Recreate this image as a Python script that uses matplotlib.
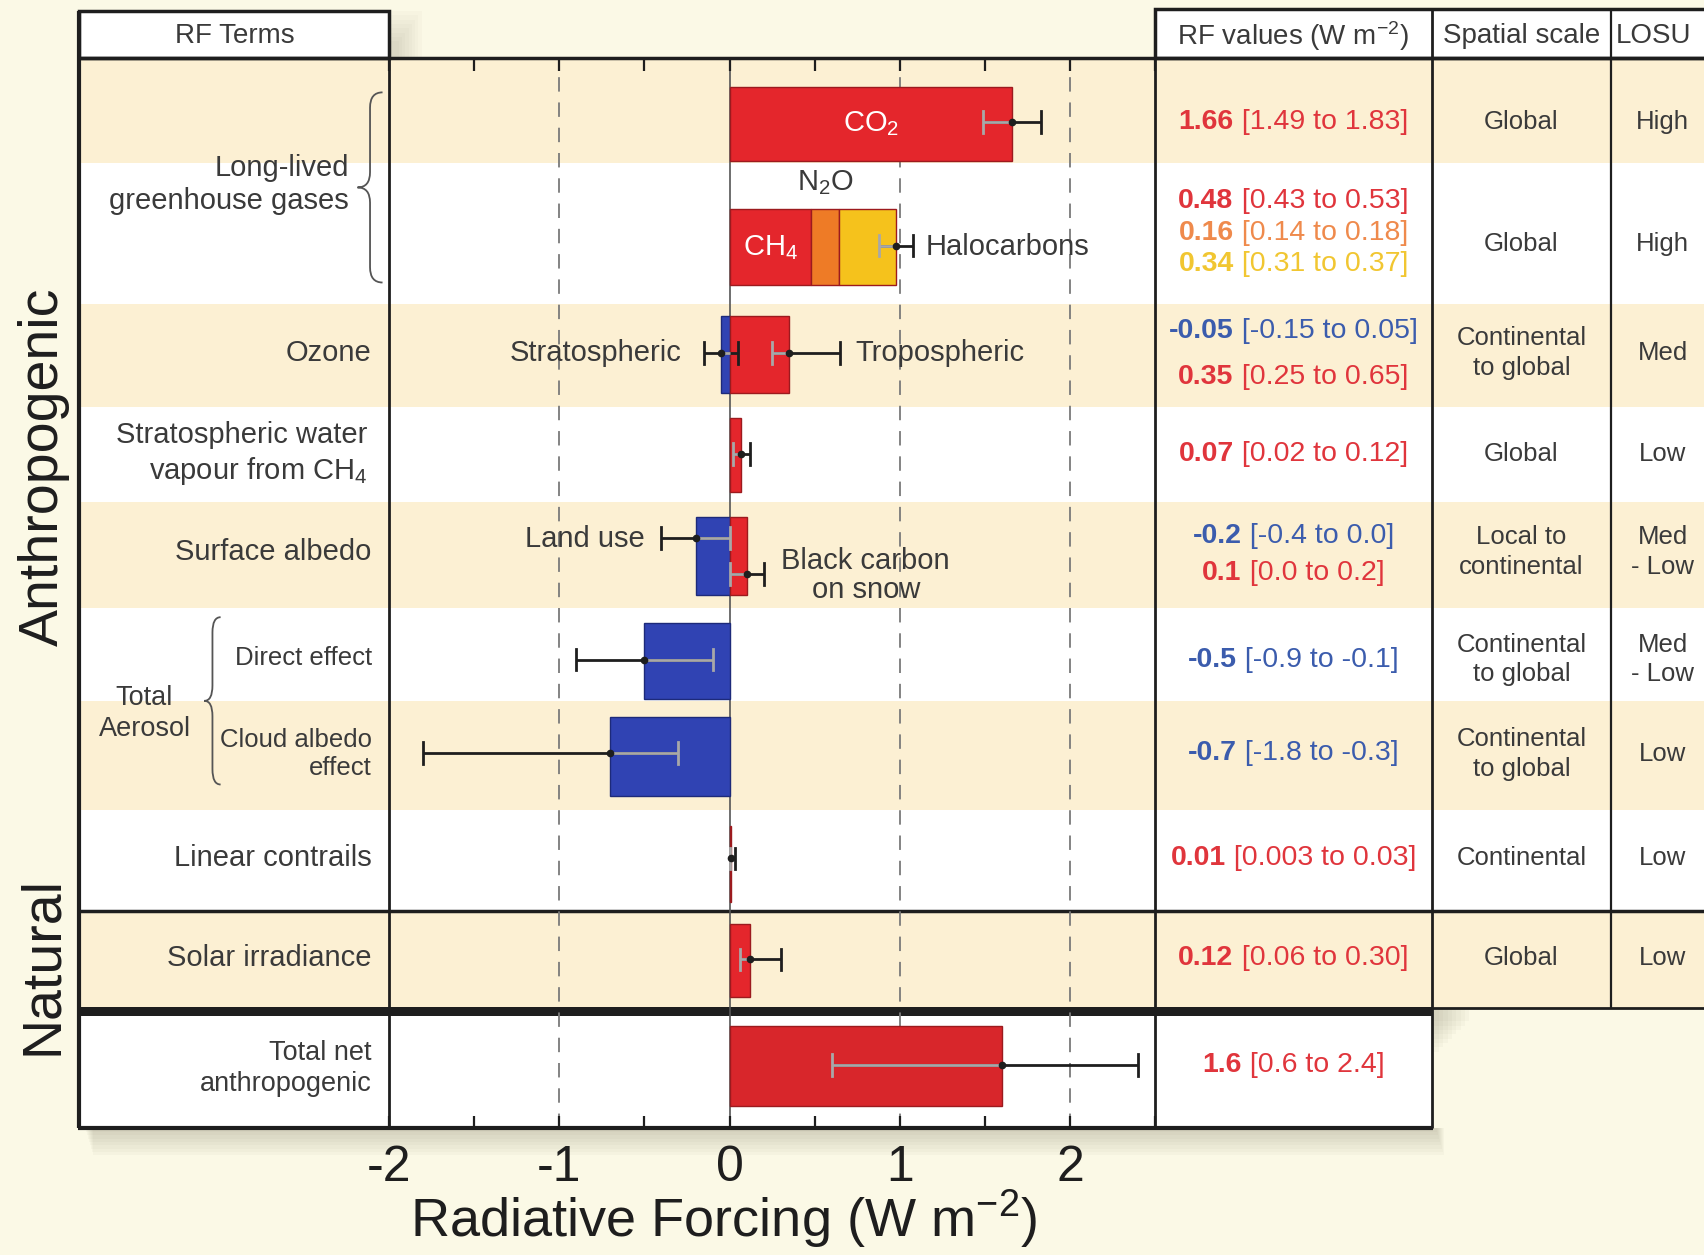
"""IPCC AR4-style radiative forcing summary: bars + RF table."""

import matplotlib

matplotlib.use("Agg")
import matplotlib.pyplot as plt
from matplotlib.patches import Rectangle, PathPatch
from matplotlib.path import Path
from matplotlib.ticker import MultipleLocator

plt.rcParams["font.family"] = ["Liberation Sans", "DejaVu Sans"]
plt.rcParams["mathtext.fontset"] = "custom"
plt.rcParams["mathtext.rm"] = "Liberation Sans"
plt.rcParams["mathtext.it"] = "Liberation Sans:italic"
plt.rcParams["mathtext.bf"] = "Liberation Sans:bold"
plt.rcParams["axes.unicode_minus"] = False

# --- data -------------------------------------------------------------------
ghg_labels = ["CH$_4$", "N$_2$O", "Halocarbons"]
ghg_values = [0.48, 0.16, 0.34]
ghg_lows = [0.43, 0.14, 0.31]
ghg_highs = [0.53, 0.18, 0.37]

terms = ["CO2", "Stratospheric", "Tropospheric", "Strat H2O", "Land use",
         "Black carbon", "Direct", "Cloud albedo", "Contrails", "Solar",
         "Total net"]
values = [1.66, -0.05, 0.35, 0.07, -0.2, 0.1, -0.5, -0.7, 0.01, 0.12, 1.6]
lows = [1.49, -0.15, 0.25, 0.02, -0.4, 0.0, -0.9, -1.8, 0.003, 0.06, 0.6]
highs = [1.83, 0.05, 0.65, 0.12, 0.0, 0.2, -0.1, -0.3, 0.03, 0.30, 2.4]

row_labels = ["Long-lived\ngreenhouse gases", "Ozone",
              "Stratospheric water\nvapour from CH$_4$", "Surface albedo",
              "Direct effect", "Cloud albedo\neffect", "Linear contrails",
              "Solar irradiance", "Total net\nanthropogenic"]

rf_table = [
    [("1.66", "[1.49 to 1.83]")],
    [("0.48", "[0.43 to 0.53]"), ("0.16", "[0.14 to 0.18]"), ("0.34", "[0.31 to 0.37]")],
    [("-0.05", "[-0.15 to 0.05]"), ("0.35", "[0.25 to 0.65]")],
    [("0.07", "[0.02 to 0.12]")],
    [("-0.2", "[-0.4 to 0.0]"), ("0.1", "[0.0 to 0.2]")],
    [("-0.5", "[-0.9 to -0.1]")],
    [("-0.7", "[-1.8 to -0.3]")],
    [("0.01", "[0.003 to 0.03]")],
    [("0.12", "[0.06 to 0.30]")],
    [("1.6", "[0.6 to 2.4]")],
]
spatial_scale = ["Global", "Global", "Continental\nto global", "Global",
                 "Local to\ncontinental", "Continental\nto global",
                 "Continental\nto global", "Continental", "Global"]
losu = ["High", "High", "Med", "Low", "Med\n- Low", "Med\n- Low", "Low", "Low", "Low"]

# --- style / layout (reference pixel grid) -------------------------------------
W, H = 1568, 1155
BG = "#fbf9e6"
BEIGE = "#fcf0d3"
RED, BLUE = "#e4262c", "#3043b3"
TOTAL_RED = "#d8262b"
GHG_COLORS = [RED, "#ee7b26", "#f5c21c"]
TXT_COLORS = {"red": "#e0353c", "blue": "#3b5cad", "orange": "#ef8a4c", "yellow": "#f1c631"}
rf_colors = [["red"], ["red", "orange", "yellow"], ["blue", "red"], ["red"],
             ["blue", "red"], ["blue"], ["blue"], ["red"], ["red"], ["red"]]
INK = "#3a3a3a"
DARK = "#1e1e1e"
ERR_IN = "#a8a8a8"

row_edges = [53, 150, 280, 375, 462, 560, 645, 745, 838, 928]
shaded = [True, False, True, False, True, False, True, False, True]
table_y = [112, 225, 325, 418, 508, 607, 694, 790, 882, 980]
rf_line_y = [[112], [185, 214, 243], [305, 347], [418], [493, 527], [607],
             [693], [790], [882], [980]]
label_y = [170, 325, 418, 508, 606, 694, 790, 882, 983]
label_x = [321, 342, 338, 342, 342, 342, 342, 342, 342]
label_size = [21, 21, 21, 21, 18.5, 18.5, 21, 21, 19.5]

# bar centre, bar height, error-bar y
bar_layout = {
    "CO2": (114, 68, 112), "Stratospheric": (326, 71, 325),
    "Tropospheric": (326, 71, 325), "Strat H2O": (419, 68, 418),
    "Land use": (512, 72, 495), "Black carbon": (512, 72, 528),
    "Direct": (608, 70, 607), "Cloud albedo": (696, 73, 693),
    "Contrails": (795, 70, 790), "Solar": (884, 68, 883),
    "Total net": (981, 73, 980),
}
ghg_layout = (227, 70, 226)

X_LEFT, X_PLOT_L, X_PLOT_R, X_SCALE, X_LOSU, X_RIGHT = 73, 358, 1063, 1318, 1482, 1600
Y_HEAD, Y_TOP, Y_NAT, Y_SOL, Y_TOT0, Y_TOT1 = 10, 53, 838, 928, 935, 1038

fig = plt.figure(figsize=(17.04, 12.55), dpi=100, facecolor=BG)
bg = fig.add_axes([0, 0, 1, 1])
bg.set_xlim(0, W)
bg.set_ylim(H, 0)
bg.axis("off")


def hline(y, x0, x1, lw=2.2):
    bg.plot([x0, x1], [y, y], color=DARK, lw=lw, solid_capstyle="butt", zorder=5)


def vline(x, y0, y1, lw=2.0):
    bg.plot([x, x], [y0, y1], color=DARK, lw=lw, solid_capstyle="butt", zorder=5)


def brace(x_tip, x_end, y0, y1, r=14):
    xm = (x_tip + x_end) / 2
    ym = (y0 + y1) / 2
    verts = [(x_end, y0), (xm, y0), (xm, y0 + r), (xm, ym - r), (xm, ym), (x_tip, ym),
             (xm, ym), (xm, ym + r), (xm, y1 - r), (xm, y1), (x_end, y1)]
    codes = [Path.MOVETO, Path.CURVE3, Path.CURVE3, Path.LINETO, Path.CURVE3, Path.CURVE3,
             Path.CURVE3, Path.CURVE3, Path.LINETO, Path.CURVE3, Path.CURVE3]
    bg.add_patch(PathPatch(Path(verts, codes), fill=False, color="#555", lw=1.3, zorder=6))


# soft drop shadow under the boxes
for k in range(8):
    a = 0.035
    bg.add_patch(Rectangle((X_LEFT + 6 + k, Y_TOT1), X_SCALE - X_LEFT - 2, 4 + 3 * k,
                           color="#6b6650", alpha=a, lw=0, zorder=1))
    bg.add_patch(Rectangle((X_SCALE, Y_SOL), 6 + 4 * k, 40 - 4 * k,
                           color="#6b6650", alpha=a, lw=0, zorder=1))
    bg.add_patch(Rectangle((X_PLOT_L, Y_HEAD + 4 * k), 30 - 3 * k, Y_TOP - Y_HEAD - 4 * k,
                           color="#6b6650", alpha=a * 0.8, lw=0, zorder=1))

# row bands
for (y0, y1, sh) in zip(row_edges[:-1], row_edges[1:], shaded):
    bg.add_patch(Rectangle((X_LEFT, y0), X_RIGHT - X_LEFT, y1 - y0,
                           color=BEIGE if sh else "white", lw=0, zorder=2))
bg.add_patch(Rectangle((X_LEFT, Y_TOT0), X_SCALE - X_LEFT, Y_TOT1 - Y_TOT0,
                       color="white", lw=0, zorder=2))
# header boxes
bg.add_patch(Rectangle((X_LEFT, Y_HEAD), X_PLOT_L - X_LEFT, Y_TOP - Y_HEAD,
                       facecolor="white", edgecolor=DARK, lw=2.5, zorder=4))
bg.add_patch(Rectangle((X_PLOT_R, Y_HEAD - 2), X_RIGHT - X_PLOT_R, Y_TOP - Y_HEAD + 2,
                       facecolor="white", edgecolor=DARK, lw=2.5, zorder=4))

# frame lines
vline(X_LEFT, Y_HEAD, Y_TOT1, lw=3)
vline(X_PLOT_L, Y_HEAD, Y_TOT1)
vline(X_PLOT_R, Y_HEAD - 2, Y_TOT1)
vline(X_SCALE, Y_HEAD - 2, Y_TOT1)
vline(X_LOSU, Y_HEAD - 2, Y_SOL, lw=1.6)
hline(Y_TOP, X_LEFT, X_RIGHT, lw=2.5)
hline(Y_NAT, X_LEFT, X_RIGHT, lw=2.5)
hline(Y_SOL, X_SCALE, X_RIGHT, lw=2)
bg.add_patch(Rectangle((X_LEFT, Y_SOL - 1), X_SCALE - X_LEFT, Y_TOT0 - Y_SOL + 1,
                       color=DARK, lw=0, zorder=5))
hline(Y_TOT1, X_LEFT - 1.5, X_SCALE + 1, lw=3)

# headers
bg.text(216, 33, "RF Terms", ha="center", va="center", fontsize=20, color=INK, zorder=7)
bg.text(1190, 33, "RF values (W m$^{-2}$)", ha="center", va="center", fontsize=20,
        color=INK, zorder=7)
bg.text(1400, 33, "Spatial scale", ha="center", va="center", fontsize=20, color=INK, zorder=7)
bg.text(1487, 33, "LOSU", ha="left", va="center", fontsize=20, color=INK, zorder=7)

# group labels
bg.text(40, 430, "Anthropogenic", rotation=90, ha="center", va="center",
        fontsize=40, color=DARK, zorder=7)
bg.text(40, 889, "Natural", rotation=90, ha="center", va="center",
        fontsize=40, color=DARK, zorder=7)

# row labels
for lab, x, y, fs in zip(row_labels, label_x, label_y, label_size):
    bg.text(x, y, lab, ha="right", va="center", fontsize=fs, color=INK,
            linespacing=1.25, zorder=7)
bg.text(133, 657, "Total\nAerosol", ha="center", va="center", fontsize=19.5,
        color=INK, linespacing=1.25, zorder=7)
brace(329, 352, 85, 260)
brace(188, 203, 568, 722)

# RF value column: bold value + plain range, centred as one string
renderer = fig.canvas.get_renderer()
px_to_x = W / bg.bbox.width
for lines, ys, cols in zip(rf_table, rf_line_y, rf_colors):
    for (val, rng), y, c in zip(lines, ys, cols):
        t1 = bg.text(0, y, val, fontweight="bold", fontsize=20.5, ha="left",
                     va="center", color=TXT_COLORS[c], zorder=7)
        t2 = bg.text(0, y, " " + rng, fontsize=20.5, ha="left", va="center",
                     color=TXT_COLORS[c], zorder=7)
        w1 = t1.get_window_extent(renderer).width * px_to_x
        w2 = t2.get_window_extent(renderer).width * px_to_x
        x0 = 1190 - (w1 + w2) / 2
        t1.set_x(x0)
        t2.set_x(x0 + w1)

for sc, lo_, y in zip(spatial_scale, losu, table_y):
    bg.text(1400, y, sc, ha="center", va="center", fontsize=18.5, color=INK,
            linespacing=1.3, zorder=7)
    bg.text(1530, y, lo_, ha="center", va="center", fontsize=18.5, color=INK,
            linespacing=1.3, zorder=7)

# --- forcing bars ---------------------------------------------------------------
ax = fig.add_axes([X_PLOT_L / W, 1 - Y_TOT1 / H, (X_PLOT_R - X_PLOT_L) / W,
                   (Y_TOT1 - Y_TOP) / H])
ax.patch.set_alpha(0)
ax.set_xlim(-2, 2.5)
ax.set_ylim(Y_TOT1, Y_TOP)
for s in ax.spines.values():
    s.set_visible(False)
ax.set_yticks([])
ax.xaxis.set_major_locator(MultipleLocator(1))
ax.xaxis.set_minor_locator(MultipleLocator(0.5))
ax.set_xticks([-2, -1, 0, 1, 2])
ax.tick_params(axis="x", which="both", direction="in", top=True, length=9,
               width=1.6, color=DARK, labelsize=36, pad=12, labelcolor=DARK)
ax.set_xlabel("Radiative Forcing (W m$^{-2}$)", fontsize=39, color=DARK)
ax.xaxis.set_label_coords(0.437, -0.056)

for gx in (-1, 1, 2):
    ax.axvline(gx, color="#7a7a7a", lw=1.3, ls=(0, (8, 6)), zorder=1)
ax.axvline(0, color="#555", lw=1.2, zorder=1)


def error_bar(v, lo, hi, y, bar_lo, bar_hi):
    ax.plot([lo, hi], [y, y], color=DARK, lw=2, zorder=4, solid_capstyle="butt")
    in_lo, in_hi = max(lo, bar_lo), min(hi, bar_hi)
    if in_hi > in_lo:
        ax.plot([in_lo, in_hi], [y, y], color=ERR_IN, lw=2, zorder=5, solid_capstyle="butt")
    for e in (lo, hi):
        inside = bar_lo <= e <= bar_hi
        ax.plot([e, e], [y - 10, y + 10], color=ERR_IN if inside else DARK, lw=2, zorder=5)
    ax.plot(v, y, "o", ms=4.5, color=DARK, zorder=6)


for term, v, lo, hi in zip(terms, values, lows, highs):
    yc, h, ye = bar_layout[term]
    color = TOTAL_RED if term == "Total net" else (RED if v > 0 else BLUE)
    edge = "#9c1a1e" if v > 0 else "#1d2a7a"
    ax.barh(yc, v, height=h, left=0, color=color, edgecolor=edge, lw=1, zorder=3)
    error_bar(v, lo, hi, ye, min(0, v), max(0, v))

# stacked long-lived greenhouse gases
yc, h, ye = ghg_layout
left = 0
for val, col in zip(ghg_values, GHG_COLORS):
    ax.barh(yc, val, height=h, left=left, color=col, edgecolor="#9c1a1e", lw=1, zorder=3)
    left += val
error_bar(left, sum(ghg_lows), sum(ghg_highs), ye, 0, left)

# in-plot annotations
ax.text(values[0] / 2, 114, "CO$_2$", color="white", fontsize=21, ha="center",
        va="center", zorder=7)
ax.text(ghg_values[0] / 2, 228, ghg_labels[0], color="white", fontsize=21,
        ha="center", va="center", zorder=7)
ax.text(ghg_values[0] + ghg_values[1] / 2, 168, ghg_labels[1], color=INK,
        fontsize=21, ha="center", va="center", zorder=7)
ax.text(sum(ghg_highs) + 0.07, 227, ghg_labels[2], color=INK, fontsize=21,
        ha="left", va="center", zorder=7)
ax.text(lows[1] - 0.13, 325, "Stratospheric", color=INK, fontsize=21, ha="right",
        va="center", zorder=7)
ax.text(highs[2] + 0.09, 325, "Tropospheric", color=INK, fontsize=21, ha="left",
        va="center", zorder=7)
ax.text(lows[4] - 0.1, 496, "Land use", color=INK, fontsize=21, ha="right",
        va="center", zorder=7)
ax.text(0.8, 530, "Black carbon\non snow", color=INK, fontsize=21, ha="center",
        va="center", linespacing=1.05, zorder=7)

fig.savefig("out.png", dpi=100, facecolor=BG)
